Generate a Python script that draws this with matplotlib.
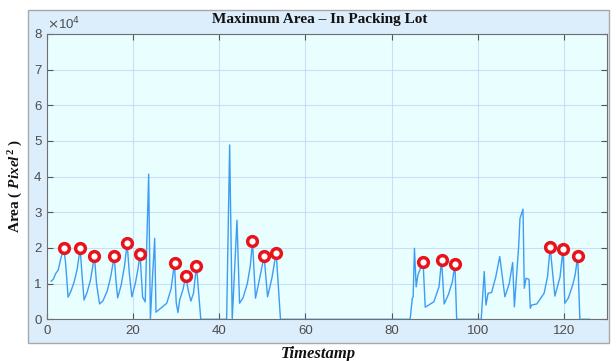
import matplotlib
matplotlib.use("Agg")
import matplotlib.pyplot as plt
from matplotlib.patches import Rectangle
import numpy as np

# ---- data ----
t = [1.0, 1.5, 2.0, 2.6, 3.2, 3.9, 4.3, 4.9, 5.6, 6.3, 7.0, 7.7, 8.1, 8.6, 9.3, 10.1, 11.0, 11.5, 12.2,
     13.0, 14.0, 14.8, 15.6, 16.0, 16.4, 17.2, 18.0, 18.6, 19.1, 19.7, 20.5, 21.1, 21.6, 22.2, 22.8,
     23.6, 24.0, 24.5, 25.0, 25.3, 26.5, 27.8, 28.8, 29.6, 30.0, 30.4, 30.8, 31.6, 32.2, 32.8, 33.4,
     34.0, 34.7, 35.7, 41.5, 41.7, 42.4, 43.0, 44.1, 44.7, 45.5, 46.5, 47.2, 47.7, 48.4, 49.2, 50.4,
     51.2, 52.2, 53.2, 54.2, 84.3, 84.8, 85.0, 85.3, 85.7, 86.1, 86.6, 87.3, 87.8, 89.8, 91.0, 91.6,
     92.2, 93.2, 94.1, 94.7, 95.1, 100.5, 100.8, 101.5, 101.9, 102.4, 103.2, 104.2, 105.1, 106.3,
     107.3, 108.1, 108.5, 109.0, 109.5, 109.8, 110.5, 110.8, 111.2, 111.9, 112.2, 112.5, 113.7,
     115.4, 116.2, 116.8, 117.9, 119.1, 119.8, 120.2, 121.0, 122.0, 122.6, 123.2, 123.7, 125.9]
area = [1.07, 1.13, 1.28, 1.38, 1.70, 2.00, 1.60, 0.62, 0.80, 1.05, 1.40, 1.99, 1.30, 0.54, 0.75, 1.10,
        1.77, 1.00, 0.43, 0.52, 0.80, 1.20, 1.77, 1.10, 0.60, 0.95, 1.50, 2.14, 1.30, 0.63, 1.00, 1.40,
        1.83, 0.62, 0.49, 4.07, 0.00, 1.20, 2.27, 0.20, 0.32, 0.45, 0.85, 1.58, 0.46, 0.19, 0.54, 0.85,
        1.22, 0.80, 0.51, 0.73, 1.50, 0.00, 0.00, 0.00, 4.89, 0.00, 2.78, 0.45, 0.60, 1.00, 1.50, 2.19,
        0.59, 1.05, 1.77, 0.63, 1.15, 1.87, 0.00, 0.00, 0.59, 0.63, 1.99, 0.91, 1.24, 1.40, 1.62, 0.34,
        0.49, 0.91, 1.67, 0.43, 0.70, 1.05, 1.54, 0.00, 0.00, 0.00, 1.34, 0.40, 0.73, 0.75, 1.20, 1.76,
        0.63, 1.00, 1.59, 0.35, 1.20, 2.06, 2.83, 3.09, 0.87, 1.15, 1.12, 0.31, 0.40, 0.43, 0.73, 1.20,
        2.02, 0.65, 1.19, 1.98, 0.45, 0.59, 0.95, 1.24, 1.77, 0.00, 0.00]
peak_t = [3.9, 7.7, 11.0, 15.6, 18.6, 21.6, 29.6, 32.2, 34.7, 47.7, 50.4, 53.2, 87.3, 91.6, 94.7,
          116.8, 119.8, 123.2]
peak_area = [2.00, 1.99, 1.77, 1.77, 2.14, 1.83, 1.58, 1.22, 1.50, 2.19, 1.77, 1.87, 1.62, 1.67, 1.54,
             2.02, 1.98, 1.77]
x_ticks = [0, 20, 40, 60, 80, 100, 120]
y_ticks = [0, 1, 2, 3, 4, 5, 6, 7, 8]

plt.rcParams['mathtext.fontset'] = 'custom'
plt.rcParams['mathtext.it'] = 'Liberation Serif:italic:bold'
plt.rcParams['mathtext.rm'] = 'Liberation Serif:bold'
plt.rcParams['mathtext.bf'] = 'Liberation Serif:bold'

fig = plt.figure(figsize=(6.16, 3.61), dpi=100)
fig.patch.set_facecolor('white')

# light blue figure panel
panel = Rectangle((28 / 616, 1 - 343 / 361), 581 / 616, 333 / 361, transform=fig.transFigure,
                  facecolor='#dcedfb', edgecolor='#a9a9a9', linewidth=1.0, zorder=-10)
fig.patches.append(panel)

ax = fig.add_axes([47 / 616, 1 - 319.3 / 361, 560 / 616, 285.3 / 361])
ax.set_zorder(1)
ax.set_facecolor('#e9feff')

sc = 1e4
ax.plot(t, np.array(area) * sc, color='#3d9df2', linewidth=1.0, zorder=3)
ax.plot(peak_t, np.array(peak_area) * sc, linestyle='none', marker='o', markersize=7.0,
        markerfacecolor='white', markeredgecolor='#e8141c', markeredgewidth=2.5, zorder=4)

ax.set_xlim(0, 130)
ax.set_ylim(0, 8e4)
ax.set_xticks(x_ticks)
ax.set_yticks([v * sc for v in y_ticks])
ax.set_yticklabels([str(v) for v in y_ticks])
ax.grid(True, color='#c8e0f5', linewidth=0.8)
ax.set_axisbelow(True)
ax.tick_params(direction='in', length=4, width=0.8, colors='#555555', labelsize=9.5,
               top=True, right=True, labelcolor='#4d4d4d', pad=4)
for lab in ax.get_xticklabels() + ax.get_yticklabels():
    lab.set_family('Liberation Sans')
for s in ax.spines.values():
    s.set_color('#6f6f6f')
    s.set_linewidth(0.8)

ax.text(0.0, 1.005, r'$\times$10$^4$', transform=ax.transAxes, fontsize=9.5, color='#4d4d4d',
        family='Liberation Sans', ha='left', va='bottom', math_fontfamily='dejavusans')

fig.text(320 / 616, 1 - 20 / 361, 'Maximum Area \u2013 In Packing Lot', family='Liberation Serif',
         fontweight='bold', fontsize=11, ha='center', va='center', color='#111111')
fig.text(16 / 616, 1 - 186 / 361, r'Area ( $Pixel^{2}$ )', family='Liberation Serif',
         fontweight='bold', fontsize=11, ha='center', va='center', rotation=90, color='#111111')
fig.text(318 / 616, 1 - 354 / 361, 'Timestamp', family='Liberation Serif', fontweight='bold',
         style='italic', fontsize=12, ha='center', va='center', color='#111111')

fig.savefig('out.png', dpi=100, facecolor='white')
